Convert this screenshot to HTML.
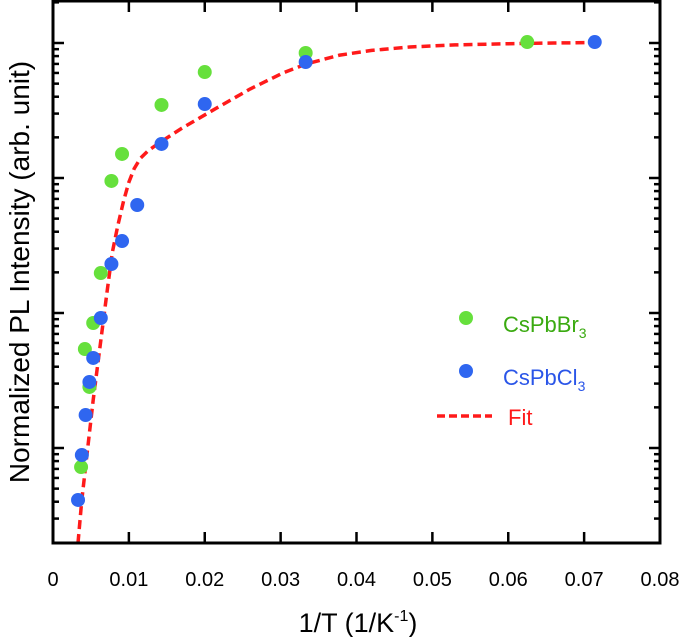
<!DOCTYPE html>
<html><head><meta charset="utf-8"><style>
body{margin:0;background:#fff;}
svg{display:block;font-family:"Liberation Sans",Arial,sans-serif;}
</style></head><body>
<svg id="chart" width="685" height="637">
<g id="ticks"></g>
<g id="fit"></g>
<g id="pts"></g>
<rect x="53" y="1" width="607" height="542" fill="none" stroke="#000" stroke-width="3"/>
<g id="xlabels"></g>
<text x="358" y="632" font-size="27" text-anchor="middle">1/T (1/K<tspan font-size="16" dy="-11">-1</tspan><tspan dy="11">)</tspan></text>
<text transform="translate(29,272) rotate(-90)" font-size="28" text-anchor="middle">Normalized PL Intensity (arb. unit)</text>
<g>
<circle cx="466" cy="318" r="7" fill="#66e03c"/>
<text x="503" y="332" font-size="22" fill="#3aaa10">CsPbBr<tspan font-size="14" dy="6">3</tspan></text>
<circle cx="466" cy="371" r="7" fill="#2f66f0"/>
<text x="503" y="385" font-size="22" fill="#2a55e8">CsPbCl<tspan font-size="14" dy="6">3</tspan></text>
<line x1="437" y1="416" x2="492" y2="416" stroke="#ff1a1a" stroke-width="3.5" stroke-dasharray="8,4"/>
<text x="508" y="425" font-size="22" fill="#ff1a1a">Fit</text>
</g>
</svg>
<script>
const xTicks=[0,0.01,0.02,0.03,0.04,0.05,0.06,0.07,0.08];
const xTickLabels=["0","0.01","0.02","0.03","0.04","0.05","0.06","0.07","0.08"];
const brX=[0.0625,0.0333,0.02,0.0143,0.0091,0.0077,0.0063,0.0053,0.0042,0.0048,0.0037];
const brLog=[0.007,-0.074,-0.215,-0.459,-0.822,-1.022,-1.704,-2.074,-2.267,-2.548,-3.141];
const clX=[0.0714,0.0333,0.02,0.0143,0.0111,0.0091,0.0077,0.0063,0.0053,0.0048,0.0043,0.0038,0.0033];
const clLog=[0.007,-0.141,-0.452,-0.748,-1.2,-1.467,-1.637,-2.037,-2.333,-2.511,-2.756,-3.052,-3.385];
const fitX=[0.0033,0.0038,0.0053,0.0071,0.0078,0.0085,0.0093,0.01,0.0107,0.0115,0.0125,0.014,0.017,0.0216,0.026,0.0303,0.0334,0.0378,0.042,0.047,0.053,0.06,0.066,0.072];
const fitLog=[-3.704,-3.385,-2.644,-1.852,-1.556,-1.363,-1.17,-1.03,-0.93,-0.855,-0.8,-0.74,-0.63,-0.481,-0.34,-0.222,-0.155,-0.09,-0.055,-0.03,-0.014,-0.005,0.0,0.004];
const X=v=>53+v/0.08*607;
const Y=l=>43-l*135;
const NS="http://www.w3.org/2000/svg";
function mk(t,a,p){const e=document.createElementNS(NS,t);for(const k in a)e.setAttribute(k,a[k]);p.appendChild(e);return e;}
const tk=document.getElementById('ticks'),xl=document.getElementById('xlabels');
xTicks.forEach((v,i)=>{
  const x=X(v);
  if(i>0&&i<xTicks.length-1){
    const a=mk('line',{x1:x,x2:x,y1:543,y2:532,stroke:'#000','stroke-width':2.5},tk);
    
    
    const b=mk('line',{x1:x,x2:x,y1:1,y2:12,stroke:'#000','stroke-width':2.5},tk);
    
    
  }
  const t=mk('text',{x:x,y:586,'font-size':20,'text-anchor':'middle'},xl);
  t.textContent=xTickLabels[i];
  
  
});
for(let d=0;d>=-4;d--){
  for(let m=1;m<=9;m++){
    const l=d+Math.log10(m);
    const y=Y(l);
    if(y<2||y>542)continue;
    const len=m===1?11:6;
    const a=mk('line',{x1:53,x2:53+len,y1:y,y2:y,stroke:'#000','stroke-width':2.5},tk);
    
    
    const b=mk('line',{x1:660,x2:660-len,y1:y,y2:y,stroke:'#000','stroke-width':2.5},tk);
    
    
  }
}
const fg=document.getElementById('fit');
const path=mk('path',{d:fitX.map((v,i)=>(i?'L':'M')+X(v).toFixed(1)+','+Y(fitLog[i]).toFixed(1)).join(''),fill:'none',stroke:'#ff1a1a','stroke-width':3.5,'stroke-dasharray':'9,5','stroke-linejoin':'round'},fg);


const pg=document.getElementById('pts');
brX.forEach((v,i)=>{
  const c=mk('circle',{cx:X(v),cy:Y(brLog[i]),r:7,fill:'#66e03c'},pg);
  
  
});
clX.forEach((v,i)=>{
  const c=mk('circle',{cx:X(v),cy:Y(clLog[i]),r:7,fill:'#2f66f0'},pg);
  
  
});
</script>
</body></html>
